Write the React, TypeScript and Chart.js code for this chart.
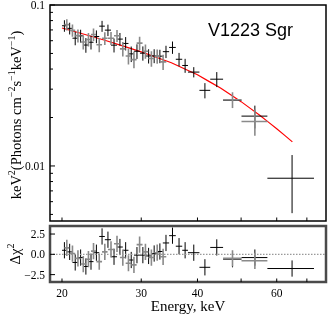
import React, { useEffect, useRef } from "react";
import { Chart, registerables } from "chart.js";

Chart.register(...registerables);

// ---------- data ----------
// Black data set (energy centre, half bin width, flux, flux error, residual)
const blackE = [20.25, 20.8, 21.4, 22.0, 22.6, 23.2, 23.85, 24.55, 25.3, 26.1, 26.9, 27.7, 28.5, 29.35, 30.25, 31.15, 32.05, 33.0, 34.05, 35.2, 36.4, 37.55, 39.25, 41.55, 44.15, 47.85, 53.65, 64.9];
const blackDE = [0.25, 0.3, 0.3, 0.3, 0.3, 0.3, 0.35, 0.35, 0.4, 0.4, 0.4, 0.4, 0.4, 0.45, 0.45, 0.45, 0.45, 0.5, 0.55, 0.6, 0.6, 0.55, 1.15, 1.15, 1.45, 2.25, 3.55, 7.7];
const blackF = [0.0743, 0.0716, 0.0622, 0.0643, 0.0564, 0.0587, 0.0637, 0.0739, 0.0698, 0.0563, 0.0614, 0.0577, 0.0497, 0.0516, 0.0502, 0.0482, 0.0483, 0.0481, 0.0513, 0.0545, 0.046, 0.0421, 0.0383, 0.0295, 0.0346, 0.0256, 0.0204, 0.00839];
const blackDF = [0.0061, 0.006, 0.006, 0.0059, 0.0059, 0.0058, 0.0058, 0.0058, 0.0057, 0.0056, 0.0056, 0.0055, 0.0055, 0.0054, 0.0051, 0.0049, 0.0048, 0.0046, 0.0045, 0.0048, 0.0044, 0.0042, 0.0028, 0.0032, 0.0037, 0.0027, 0.0033, 0.0033];
const blackR = [0.5, 0.3, -1.0, -0.4, -1.5, -0.9, 0.2, 2.2, 1.8, -0.3, 0.9, 0.5, -0.7, -0.1, -0.1, -0.2, 0.1, 0.35, 1.4, 2.3, 1.0, 0.5, 0.2, -1.6, 0.85, -0.6, -0.4, -1.75];

// Grey data set
const grayE = [20.5, 21.1, 21.7, 22.3, 22.9, 23.5, 24.2, 24.9, 25.7, 26.5, 27.3, 28.1, 28.9, 29.75, 30.65, 31.6, 32.55, 33.55, 47.85, 53.65];
const grayDE = [0.25, 0.3, 0.3, 0.3, 0.3, 0.3, 0.35, 0.35, 0.4, 0.4, 0.4, 0.4, 0.4, 0.45, 0.45, 0.5, 0.45, 0.55, 2.25, 3.55];
const grayF = [0.0755, 0.0696, 0.0645, 0.0589, 0.0611, 0.0656, 0.0566, 0.0621, 0.0622, 0.0644, 0.0534, 0.0482, 0.0458, 0.058, 0.0516, 0.0465, 0.0481, 0.0443, 0.0258, 0.0189];
const grayDF = [0.0061, 0.006, 0.006, 0.0059, 0.0059, 0.0058, 0.0058, 0.0057, 0.0057, 0.0056, 0.0055, 0.0055, 0.0054, 0.0054, 0.0053, 0.0051, 0.0049, 0.0048, 0.0029, 0.0035];
const grayR = [0.8, 0.1, -0.5, -1.2, -0.6, 0.4, -0.9, 0.3, 0.6, 1.3, -0.4, -1.1, -1.3, 1.2, 0.3, -0.4, 0.2, -0.3, -0.5, -0.8];

// Model curve
const modelE = [20, 22.5, 25, 27.5, 30, 32.5, 35, 37.5, 40, 42.5, 45, 47.5, 50, 52.5, 55, 57.5, 60, 62.5, 65];
const modelF = [0.072, 0.06553, 0.06022, 0.05528, 0.0511, 0.04717, 0.04381, 0.04005, 0.03683, 0.03342, 0.0305, 0.0276, 0.0251, 0.02271, 0.02064, 0.01872, 0.01704, 0.01548, 0.01412];

// Axes
const xTicks = [20, 30, 40, 50, 60, 70];
const xTickLabels = ["20", "30", "40", "", "60", ""];
const fluxMajorTicks = [0.01, 0.1];
const fluxMajorLabels = ["0.01", "0.1"];
const fluxMinorTicks = [0.005, 0.006, 0.007, 0.008, 0.009, 0.02, 0.03, 0.04, 0.05, 0.06, 0.07, 0.08, 0.09];
const resTicks = [-2.5, 0, 2.5];
const resTickLabels = ["\u22122.5", "0.0", "2.5"];

const X_MIN = 18.81;
const X_MAX = 77.2;
const F_MIN = 0.00455;
const F_MAX = 0.1;
const R_MIN = -3.41;
const R_MAX = 3.49;

// ---------- styling ----------
const W = 332;
const H = 315;
const SERIF = '"Liberation Serif", "Times New Roman", serif';
const SANS = '"Liberation Sans", Arial, sans-serif';
const GRAY = "#8a8a8a";

function crosses(E: number[], dE: number[], V: number[], dV: number[] | null) {
  const pts: { x: number; y: number | null }[] = [];
  for (let i = 0; i < E.length; i++) {
    const e = dV ? dV[i] : 1;
    pts.push({ x: E[i] - dE[i], y: V[i] });
    pts.push({ x: E[i] + dE[i], y: V[i] });
    pts.push({ x: E[i], y: null });
    pts.push({ x: E[i], y: V[i] - e });
    pts.push({ x: E[i], y: V[i] + e });
    pts.push({ x: E[i], y: null });
  }
  return pts;
}

function drawRich(
  ctx: CanvasRenderingContext2D,
  parts: [string, boolean][],
  cx: number,
  cy: number,
  rot: number,
  size: number,
  supSize: number,
  rise: number
) {
  ctx.save();
  ctx.translate(cx, cy);
  ctx.rotate(rot);
  let total = 0;
  for (const [t, sup] of parts) {
    ctx.font = `${sup ? supSize : size}px ${SERIF}`;
    total += ctx.measureText(t).width;
  }
  let x = -total / 2;
  ctx.textAlign = "left";
  ctx.textBaseline = "alphabetic";
  ctx.fillStyle = "#000";
  for (const [t, sup] of parts) {
    ctx.font = `${sup ? supSize : size}px ${SERIF}`;
    ctx.fillText(t, x, size * 0.33 - (sup ? rise : 0));
    x += ctx.measureText(t).width;
  }
  ctx.restore();
}

const topDecor = {
  id: "topDecor",
  afterDraw(chart: any) {
    const { ctx, chartArea: a, scales } = chart;
    const xs = scales.x;
    const ys = scales.y;
    ctx.save();
    ctx.strokeStyle = "#000";
    ctx.lineWidth = 1.5;
    ctx.strokeRect(a.left, a.top, a.right - a.left, a.bottom - a.top);
    ctx.lineWidth = 1;
    ctx.beginPath();
    for (const v of fluxMajorTicks) {
      const y = ys.getPixelForValue(v);
      ctx.moveTo(a.left, y);
      ctx.lineTo(a.left + 5, y);
    }
    for (const v of fluxMinorTicks) {
      const y = ys.getPixelForValue(v);
      ctx.moveTo(a.left, y);
      ctx.lineTo(a.left + 3, y);
    }
    for (const v of xTicks) {
      const x = xs.getPixelForValue(v);
      ctx.moveTo(x, a.bottom);
      ctx.lineTo(x, a.bottom - 3.5);
    }
    ctx.stroke();
    ctx.fillStyle = "#000";
    ctx.font = `11.5px ${SERIF}`;
    ctx.textAlign = "right";
    ctx.textBaseline = "middle";
    fluxMajorTicks.forEach((v, i) => {
      ctx.fillText(fluxMajorLabels[i], a.left - 5, ys.getPixelForValue(v) + 1);
    });
    drawRich(
      ctx,
      [
        ["keV", false],
        ["2", true],
        ["(Photons cm", false],
        ["\u22122", true],
        ["s", false],
        ["\u22121", true],
        ["keV", false],
        ["\u22121", true],
        [")", false],
      ],
      16,
      (a.top + a.bottom) / 2 + 2,
      -Math.PI / 2,
      14.5,
      10,
      5.5
    );
    ctx.font = `18px ${SANS}`;
    ctx.textAlign = "left";
    ctx.textBaseline = "alphabetic";
    ctx.fillText("V1223 Sgr", 208, 36);
    ctx.restore();
  },
};

const bottomDecor = {
  id: "bottomDecor",
  afterDraw(chart: any) {
    const { ctx, chartArea: a, scales } = chart;
    const xs = scales.x;
    const ys = scales.y;
    ctx.save();
    ctx.strokeStyle = "#4a4a4a";
    ctx.lineWidth = 2.5;
    ctx.strokeRect(a.left, a.top, a.right - a.left, a.bottom - a.top);
    ctx.strokeStyle = "#000";
    ctx.lineWidth = 1;
    ctx.beginPath();
    for (const v of resTicks) {
      const y = ys.getPixelForValue(v);
      ctx.moveTo(a.left, y);
      ctx.lineTo(a.left + 5, y);
    }
    for (const v of xTicks) {
      const x = xs.getPixelForValue(v);
      ctx.moveTo(x, a.bottom);
      ctx.lineTo(x, a.bottom - 3.5);
    }
    ctx.stroke();
    ctx.fillStyle = "#000";
    ctx.font = `11.5px ${SERIF}`;
    ctx.textAlign = "right";
    ctx.textBaseline = "middle";
    resTicks.forEach((v, i) => {
      ctx.fillText(resTickLabels[i], a.left - 5, ys.getPixelForValue(v) + 1);
    });
    ctx.textAlign = "center";
    ctx.textBaseline = "alphabetic";
    xTicks.forEach((v, i) => {
      if (xTickLabels[i]) ctx.fillText(xTickLabels[i], xs.getPixelForValue(v), a.bottom + 15);
    });
    ctx.font = `15px ${SERIF}`;
    ctx.fillText("Energy, keV", (a.left + a.right) / 2, a.bottom + 29);
    drawRich(
      ctx,
      [
        ["\u0394\u03c7", false],
        ["2", true],
      ],
      15,
      (a.top + a.bottom) / 2,
      -Math.PI / 2,
      14.5,
      10,
      5.5
    );
    ctx.restore();
  },
};

function baseOptions(padTop: number, padBottom: number, yType: string, yMin: number, yMax: number) {
  return {
    animation: false as const,
    responsive: false,
    maintainAspectRatio: false,
    layout: { padding: { left: 50, right: 6, top: padTop, bottom: padBottom } },
    scales: {
      x: { type: "logarithmic" as const, min: X_MIN, max: X_MAX, display: false },
      y: { type: yType as any, min: yMin, max: yMax, display: false },
    },
    plugins: { legend: { display: false }, tooltip: { enabled: false } },
    elements: { point: { radius: 0 }, line: { tension: 0 } },
  };
}

export default function App() {
  const topRef = useRef<HTMLCanvasElement>(null);
  const botRef = useRef<HTMLCanvasElement>(null);

  useEffect(() => {
    const top = new Chart(topRef.current as HTMLCanvasElement, {
      type: "scatter",
      data: {
        datasets: [
          {
            data: crosses(grayE, grayDE, grayF, grayDF) as any,
            showLine: true,
            spanGaps: false,
            borderColor: GRAY,
            borderWidth: 1.6,
            pointRadius: 0,
          },
          {
            data: crosses(blackE, blackDE, blackF, blackDF) as any,
            showLine: true,
            spanGaps: false,
            borderColor: "#000",
            borderWidth: 1,
            pointRadius: 0,
          },
          {
            data: modelE.map((e, i) => ({ x: e, y: modelF[i] })),
            showLine: true,
            borderColor: "#ff0000",
            borderWidth: 1.2,
            pointRadius: 0,
          },
        ],
      },
      options: baseOptions(5, H - 221, "logarithmic", F_MIN, F_MAX) as any,
      plugins: [topDecor],
    });

    const bot = new Chart(botRef.current as HTMLCanvasElement, {
      type: "scatter",
      data: {
        datasets: [
          {
            data: [
              { x: X_MIN, y: 0 },
              { x: X_MAX, y: 0 },
            ],
            showLine: true,
            borderColor: "#999",
            borderWidth: 1.2,
            borderDash: [1.5, 1.5],
            pointRadius: 0,
          },
          {
            data: crosses(grayE, grayDE, grayR, null) as any,
            showLine: true,
            spanGaps: false,
            borderColor: GRAY,
            borderWidth: 1.6,
            pointRadius: 0,
          },
          {
            data: crosses(blackE, blackDE, blackR, null) as any,
            showLine: true,
            spanGaps: false,
            borderColor: "#000",
            borderWidth: 1,
            pointRadius: 0,
          },
        ],
      },
      options: baseOptions(226, H - 282, "linear", R_MIN, R_MAX) as any,
      plugins: [bottomDecor],
    });

    return () => {
      top.destroy();
      bot.destroy();
    };
  }, []);

  return (
    <div style={{ position: "absolute", left: 0, top: 0, width: W, height: H, background: "#fff" }}>
      <canvas ref={topRef} width={W} height={H} style={{ position: "absolute", left: 0, top: 0 }} />
      <canvas ref={botRef} width={W} height={H} style={{ position: "absolute", left: 0, top: 0 }} />
    </div>
  );
}
